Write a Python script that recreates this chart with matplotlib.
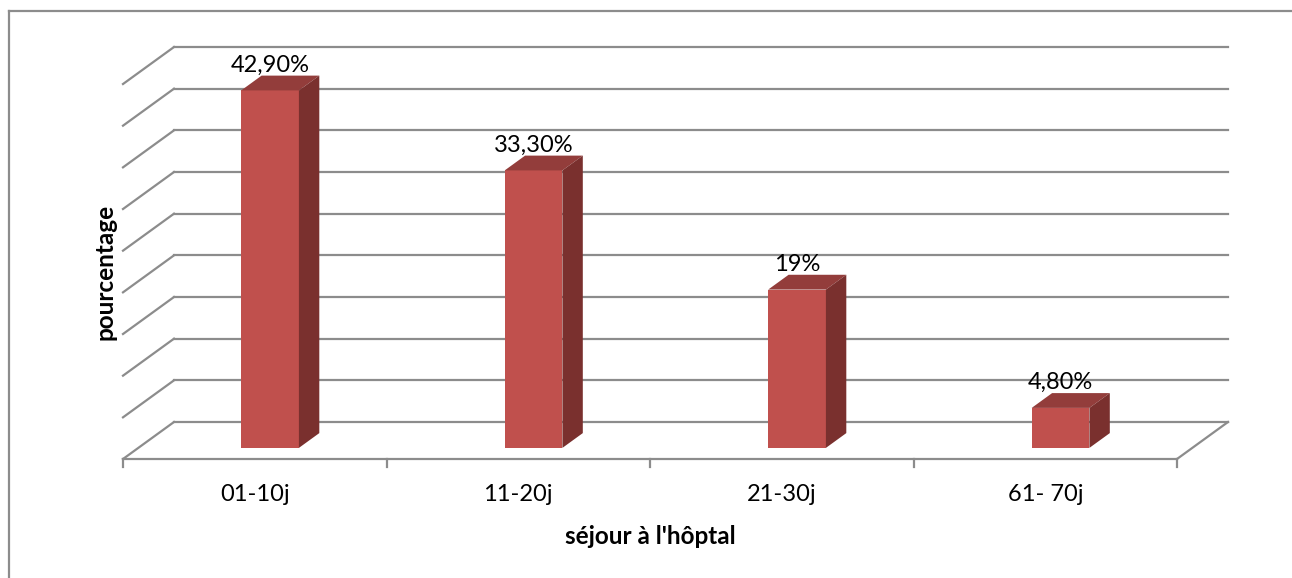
import matplotlib.pyplot as plt
from matplotlib.patches import Polygon
from matplotlib.lines import Line2D

categories = ['01-10j', '11-20j', '21-30j', '61- 70j']
values = [42.9, 33.3, 19.0, 4.8]
value_labels = ['42,90%', '33,30%', '19%', '4,80%']
y_max = 45
y_step = 5

plt.rcParams['font.family'] = ['Lato', 'DejaVu Sans']

W, H = 1292, 578
fig = plt.figure(figsize=(W / 100, H / 100), dpi=100)
ax = fig.add_axes([0, 0, 1, 1])
ax.set_axis_off()

# pixel mapping: category axis spans 123..1177 px, value 0 sits at y=459 px
px_per_cat = 263.5
px_per_val = 8.333
ax.set_xlim(-0.5 - 123 / px_per_cat, -0.5 + (W - 123) / px_per_cat)
ax.set_ylim((459 - H) / px_per_val, 459 / px_per_val)

# oblique depth offset (full depth of the chart floor)
ddx = 51 / px_per_cat
ddy = 37 / px_per_val

grid_col = '#8C8C8C'
lw = 1.6
x0, x1 = -0.5, len(categories) - 0.5

# back wall gridlines + left wall diagonals
for v in range(0, y_max + 1, y_step):
    ax.add_line(Line2D([x0 + ddx, x1 + ddx], [v + ddy, v + ddy], color=grid_col, lw=lw, zorder=1))
    ax.add_line(Line2D([x0, x0 + ddx], [v, v + ddy], color=grid_col, lw=lw, zorder=1))

# floor front edge and right edge
ax.add_line(Line2D([x0, x1], [0, 0], color=grid_col, lw=lw, zorder=1))
ax.add_line(Line2D([x1, x1 + ddx], [0, ddy], color=grid_col, lw=lw, zorder=1))

# category tick marks
for i in range(len(categories) + 1):
    xt = x0 + i
    ax.add_line(Line2D([xt, xt], [0, -1.0], color=grid_col, lw=lw, zorder=1))

# 3D bars
bar_w = 0.219
d0, d1 = 0.3, 0.7
front_col = '#C0504D'
top_col = '#933D3B'
side_col = '#7A302E'

for i, (v, lab) in enumerate(zip(values, value_labels)):
    xl = i - bar_w / 2 + d0 * ddx
    xr = i + bar_w / 2 + d0 * ddx
    yb = d0 * ddy
    yt = v + d0 * ddy
    ox = (d1 - d0) * ddx
    oy = (d1 - d0) * ddy
    front = Polygon([(xl, yb), (xr, yb), (xr, yt), (xl, yt)], closed=True,
                    facecolor=front_col, edgecolor='none', zorder=3)
    top = Polygon([(xl, yt), (xr, yt), (xr + ox, yt + oy), (xl + ox, yt + oy)], closed=True,
                  facecolor=top_col, edgecolor='none', zorder=3)
    side = Polygon([(xr, yb), (xr + ox, yb + oy), (xr + ox, yt + oy), (xr, yt)], closed=True,
                   facecolor=side_col, edgecolor='none', zorder=3)
    for p in (front, top, side):
        ax.add_patch(p)
    ax.text((xl + xr) / 2, yt + oy + 0.5, lab, ha='center', va='baseline',
            fontsize=17, color='black', zorder=4)

# category labels
for i, c in enumerate(categories):
    ax.text(i, -4.3, c, ha='center', va='center', fontsize=17, color='black')

fig.text(650 / W, 1 - 537 / H, "séjour à l'hôptal", ha='center', va='center',
         fontsize=17.5, fontweight='bold')
fig.text(105 / W, 1 - 272 / H, 'pourcentage', ha='center', va='center',
         rotation=90, fontsize=17.5, fontweight='bold')

# chart area border
fig.add_artist(Line2D([9 / W, 9 / W], [0, 1 - 11 / H], color=grid_col, lw=1.6))
fig.add_artist(Line2D([9 / W, 1], [1 - 11 / H, 1 - 11 / H], color=grid_col, lw=1.6))

fig.savefig('out.png', dpi=100, facecolor='white')
